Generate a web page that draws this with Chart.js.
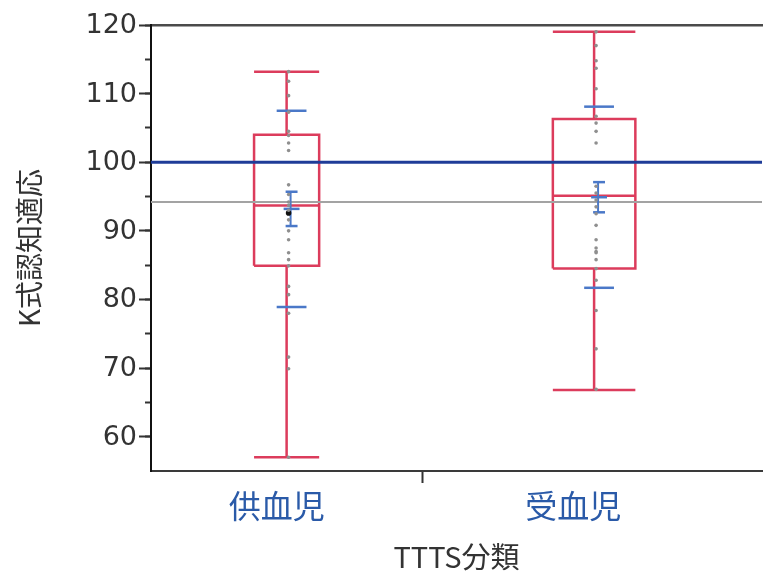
<!DOCTYPE html>
<html>
<head>
<meta charset="utf-8">
<script src="https://cdn.jsdelivr.net/npm/chart.js@4.4.1/dist/chart.umd.min.js"></script>
<style>
  html, body { margin: 0; padding: 0; background: #fff; overflow: hidden; }
  canvas { display: block; }
</style>
</head>
<body>
<canvas id="c" width="766" height="574"></canvas>
<script>
// K式認知適応 by TTTS group: box plots, raw scores, mean ± SE and ± SD

const categories     = ['供血児', '受血児'];
const upperWhisker   = [113.2, 119.0];
const upperQuartile  = [104.0, 106.3];
const medians        = [93.7, 95.1];
const lowerQuartile  = [84.9, 84.5];
const lowerWhisker   = [57.0, 66.8];
const groupMeans     = [93.2, 94.9];
const stdErrors      = [2.5, 2.2];
const stdDevs        = [14.3, 13.2];

const donorScores     = [113.2, 111.8, 109.7, 107.3, 104.5, 103.9, 102.8, 101.7, 96.7, 95.3,
                         94.2, 93.7, 93.0, 91.6, 90.0, 88.7, 86.8, 85.8, 84.9, 81.9,
                         80.7, 78.0, 71.6, 69.9, 57.0];
const recipientScores = [119.0, 117.0, 114.8, 113.7, 110.7, 106.7, 105.7, 104.5, 102.8, 96.5,
                         95.5, 94.5, 93.5, 92.5, 90.8, 88.7, 87.5, 87.0, 86.8, 85.8,
                         84.5, 82.8, 78.4, 72.8, 66.9];
const markedScores    = [92.6, null];

const overallMean    = 94.2;
const referenceScore = 100;
const yTickValues    = [60, 70, 80, 90, 100, 110, 120];

// ---- layout (x axis is proportional: each group gets its own span) ----
const GROUP_SPAN  = [273, 346];
const X_MAX       = 615;
const Y_MIN       = 55, Y_MAX = 120;
const BOX_FRAC    = 0.24;
const DOT_SHIFT   = 2;
const MEAN_SHIFT  = 5;
const LABEL_NUDGE = [-10, -21];

const centers = GROUP_SPAN.map((w, i) =>
  GROUP_SPAN.slice(0, i).reduce((a, b) => a + b, 0) + w / 2);
const divider = GROUP_SPAN[0];
const minorTicks = yTickValues.slice(1).map(v => v - 5).concat(yTickValues);

const RED = '#dc3c5c';
const SD_BLUE = '#4a78c8';

const datasets = [];
let order = 0;
function seg(points, color, width) {
  datasets.push({
    type: 'scatter', showLine: true, data: points,
    borderColor: color, borderWidth: width, pointRadius: 0,
    borderCapStyle: 'butt', borderJoinStyle: 'miter', fill: false,
    order: order++
  });
}

// raw scores (drawn on top)
[donorScores, recipientScores].forEach((vals, i) => {
  datasets.push({
    type: 'scatter',
    data: vals.map(v => ({ x: centers[i] + DOT_SHIFT, y: v })),
    pointRadius: 1.8, pointBackgroundColor: '#8f8f8f', pointBorderWidth: 0,
    order: order++
  });
});
datasets.push({
  type: 'scatter',
  data: markedScores.map((v, i) => v == null ? null : ({ x: centers[i] + DOT_SHIFT, y: v })).filter(Boolean),
  pointRadius: 2.8, pointBackgroundColor: '#111', pointBorderWidth: 0,
  order: order++
});

// mean, ± standard error, ± standard deviation
categories.forEach((_, i) => {
  const c = centers[i] + MEAN_SHIFT;
  const m = groupMeans[i], se = stdErrors[i], sd = stdDevs[i];
  seg([{ x: c - 15, y: m + sd }, { x: c + 15, y: m + sd }], SD_BLUE, 2.5);
  seg([{ x: c - 15, y: m - sd }, { x: c + 15, y: m - sd }], SD_BLUE, 2.5);
  seg([{ x: c - 6, y: m + se }, { x: c + 6, y: m + se }], SD_BLUE, 2.5);
  seg([{ x: c - 6, y: m - se }, { x: c + 6, y: m - se }], SD_BLUE, 2.5);
  seg([{ x: c - 1, y: m - se }, { x: c - 1, y: m + se }], SD_BLUE, 2);
  seg([{ x: c - 8, y: m }, { x: c + 8, y: m }], SD_BLUE, 2.5);
});

// reference lines across the whole plot
seg([{ x: 0, y: referenceScore }, { x: X_MAX, y: referenceScore }], '#1f3c98', 3);
seg([{ x: 0, y: overallMean }, { x: X_MAX, y: overallMean }], '#a3a3a3', 2);

// box plots
categories.forEach((_, i) => {
  const c = centers[i], h = GROUP_SPAN[i] * BOX_FRAC / 2;
  const l = c - h, r = c + h;
  seg([{ x: l, y: lowerQuartile[i] }, { x: r, y: lowerQuartile[i] }, { x: r, y: upperQuartile[i] },
       { x: l, y: upperQuartile[i] }, { x: l, y: lowerQuartile[i] }], RED, 2.5);
  seg([{ x: l, y: medians[i] }, { x: r, y: medians[i] }], RED, 2.5);
  seg([{ x: c, y: upperQuartile[i] }, { x: c, y: upperWhisker[i] }], RED, 2.5);
  seg([{ x: c, y: lowerQuartile[i] }, { x: c, y: lowerWhisker[i] }], RED, 2.5);
  seg([{ x: l, y: upperWhisker[i] }, { x: r, y: upperWhisker[i] }], RED, 2.5);
  seg([{ x: l, y: lowerWhisker[i] }, { x: r, y: lowerWhisker[i] }], RED, 2.5);
});

const xTickVals = [centers[0] + LABEL_NUDGE[0], divider, centers[1] + LABEL_NUDGE[1]];
const xTickText = [categories[0], '', categories[1]];

new Chart(document.getElementById('c').getContext('2d'), {
  type: 'scatter',
  data: { datasets },
  options: {
    responsive: false,
    animation: false,
    layout: { padding: 0 },
    plugins: { legend: { display: false }, tooltip: { enabled: false } },
    scales: {
      x: {
        type: 'linear', position: 'bottom', min: 0, max: X_MAX,
        afterBuildTicks: s => { s.ticks = xTickVals.map(v => ({ value: v })); },
        afterFit: s => { s.height = 103; },
        grid: {
          drawOnChartArea: false, tickLength: 12, tickWidth: 2,
          tickColor: ctx => ctx.index === 1 ? '#333' : 'rgba(0,0,0,0)'
        },
        border: { display: true, color: '#3a3a3a', width: 2 },
        ticks: {
          callback: (v, i) => xTickText[i],
          color: '#2a5aa8', autoSkip: false, maxRotation: 0, padding: 4,
          font: { family: "'Noto Sans CJK JP', sans-serif", size: 32 }
        },
        title: {
          display: true, text: 'TTTS分類', color: '#333',
          font: { family: "'Noto Sans CJK JP', sans-serif", size: 29 },
          padding: { top: 0, bottom: 0 }
        }
      },
      xTop: {
        type: 'linear', position: 'top', min: 0, max: X_MAX,
        afterBuildTicks: s => { s.ticks = []; },
        afterFit: s => { s.height = 25; },
        grid: { drawOnChartArea: false, drawTicks: false },
        border: { display: true, color: '#4a4a4a', width: 2.5 },
        ticks: { display: false }
      },
      y: {
        type: 'linear', position: 'left', min: Y_MIN, max: Y_MAX, weight: 1,
        afterBuildTicks: s => { s.ticks = yTickValues.map(v => ({ value: v })); },
        afterFit: s => { s.width = 151; },
        grid: { drawOnChartArea: false, tickLength: 12, tickWidth: 2, tickColor: '#333' },
        border: { display: true, color: '#111', width: 2 },
        ticks: {
          color: '#333', padding: 2, labelOffset: 1,
          font: { family: "'DejaVu Sans', sans-serif", size: 27 }
        },
        title: {
          display: true, text: 'K式認知適応', color: '#333',
          font: { family: "'Noto Sans CJK JP', sans-serif", size: 28 },
          padding: { top: 13, bottom: 0 }
        }
      },
      yMinor: {
        type: 'linear', position: 'left', min: Y_MIN, max: Y_MAX, weight: 0,
        afterBuildTicks: s => { s.ticks = minorTicks.map(v => ({ value: v })); },
        afterFit: s => { s.width = 0; },
        grid: { drawOnChartArea: false, tickLength: 6, tickWidth: 2, tickColor: '#333' },
        border: { display: false },
        ticks: { display: false }
      }
    }
  }
});
</script>
</body>
</html>
